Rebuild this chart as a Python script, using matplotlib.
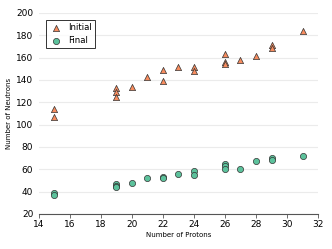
import numpy as np
import matplotlib.pyplot as plt

# protons / neutrons, initial and final
init_p = [15, 15, 19, 19, 19, 20, 21, 22, 22, 23, 24, 24, 26, 26, 26, 27, 28, 29, 29, 31]
init_n = [114, 107, 133, 129, 125, 134, 143, 149, 139, 152, 152, 148, 163, 156, 154, 158, 161, 171, 169, 184]
final_p = [15, 15, 19, 19, 19, 20, 21, 22, 22, 23, 24, 24, 26, 26, 26, 27, 28, 29, 29, 31]
final_n = [39, 37, 47, 45, 44, 48, 52, 53, 52, 56, 58, 55, 65, 63, 60, 60, 67, 70, 68, 72]

orange = '#f78c5e'
green = '#5cc29c'

fig = plt.figure(figsize=(3.32, 2.49), dpi=100)
ax = fig.add_axes([0.117, 0.141, 0.841, 0.807])

ax.scatter(init_p, init_n, marker='^', s=20, color=orange, edgecolor='#333333', linewidth=0.5, label='Initial', zorder=3)
ax.scatter(final_p, final_n, marker='o', s=20, color=green, edgecolor='#333333', linewidth=0.5, label='Final', zorder=3)

ax.set_xlim(14, 32)
ax.set_ylim(20, 200)
ax.set_xticks(np.arange(14, 33, 2))
ax.set_yticks(np.arange(20, 201, 20))
ax.grid(axis='y', color='#ebebeb', linewidth=0.8)
ax.set_axisbelow(True)

for s in ['top', 'right', 'left']:
    ax.spines[s].set_visible(False)
ax.spines['bottom'].set_color('#555555')
ax.tick_params(axis='x', direction='out', length=3, width=0.6, colors='#555555', labelcolor='black', labelsize=6.5, pad=1.5)
ax.tick_params(axis='y', length=0, labelsize=6.5, pad=4)

ax.set_xlabel('Number of Protons', fontsize=5, labelpad=2)
ax.set_ylabel('Number of Neutrons', fontsize=5, labelpad=3)

leg = ax.legend(loc='upper left', fontsize=6.2, fancybox=False, edgecolor='black',
                handletextpad=0.6, borderpad=0.35, labelspacing=0.45,
                handlelength=1.6, bbox_to_anchor=(0.01, 0.985))
leg.get_frame().set_linewidth(0.7)

fig.savefig('out.png', dpi=100)
